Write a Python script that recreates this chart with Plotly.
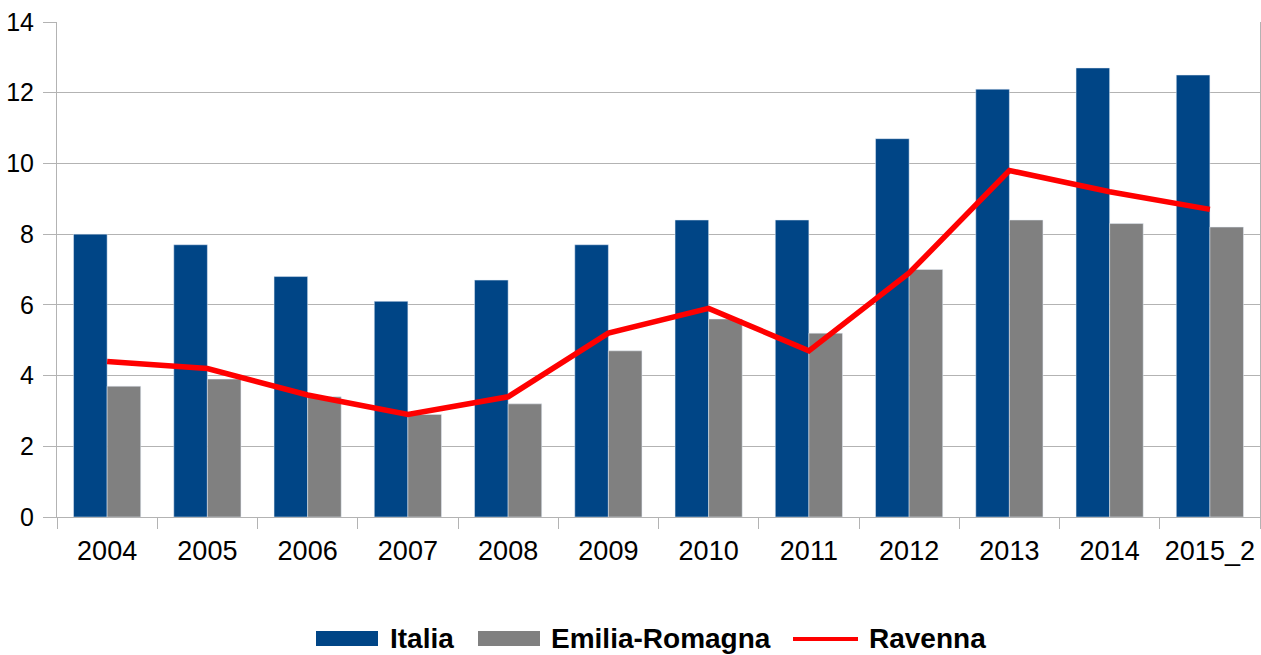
import plotly.graph_objects as go

years = ["2004", "2005", "2006", "2007", "2008", "2009", "2010", "2011", "2012", "2013", "2014", "2015_2"]
italia = [8.0, 7.7, 6.8, 6.1, 6.7, 7.7, 8.4, 8.4, 10.7, 12.1, 12.7, 12.5]
emilia = [3.7, 3.9, 3.4, 2.9, 3.2, 4.7, 5.6, 5.2, 7.0, 8.4, 8.3, 8.2]
ravenna = [4.4, 4.2, 3.45, 2.9, 3.4, 5.2, 5.9, 4.7, 6.9, 9.8, 9.2, 8.7]
y_ticks = [0, 2, 4, 6, 8, 10, 12, 14]

C_IT = "#004586"
C_ER = "#808080"
C_RA = "#ff0000"
GRID = "#b3b3b3"
FONT = "Liberation Sans, Arial, sans-serif"

fig = go.Figure()
fig.add_trace(go.Bar(x=years, y=italia, name="Italia", marker_color=C_IT, showlegend=False))
fig.add_trace(go.Bar(x=years, y=emilia, name="Emilia-Romagna", marker_color=C_ER, showlegend=False))
fig.add_trace(go.Scatter(x=years, y=ravenna, name="Ravenna", mode="lines",
                         line=dict(color=C_RA, width=5.5), showlegend=False))

W, H = 1261, 655
L, R, T, B = 57, 1, 22, 138
pw, ph = W - L - R, H - T - B

def px(x):
    return (x - L) / pw

def py(y):
    return (H - B - y) / ph

# custom legend
LEG_Y = 638
legend_items = [("Italia", C_IT, "rect", 316, 378, 388),
                ("Emilia-Romagna", C_ER, "rect", 478, 540, 549),
                ("Ravenna", C_RA, "line", 793, 858, 867)]
shapes = []
annotations = []
for name, col, kind, x0, x1, tx in legend_items:
    if kind == "rect":
        shapes.append(dict(type="rect", xref="paper", yref="paper",
                           x0=px(x0), x1=px(x1), y0=py(LEG_Y + 8), y1=py(LEG_Y - 7),
                           fillcolor=col, line=dict(width=0)))
    else:
        shapes.append(dict(type="line", xref="paper", yref="paper",
                           x0=px(x0), x1=px(x1), y0=py(LEG_Y + 1), y1=py(LEG_Y + 1),
                           line=dict(color=col, width=4)))
    annotations.append(dict(text="<b>%s</b>" % name, xref="paper", yref="paper",
                            x=px(tx), y=py(LEG_Y), xanchor="left", yanchor="middle",
                            showarrow=False, font=dict(family=FONT, size=28, color="#000000")))

fig.update_layout(
    width=W, height=H,
    margin=dict(l=L, r=R, t=T, b=B, pad=0, autoexpand=False),
    paper_bgcolor="white", plot_bgcolor="white",
    barmode="group", bargap=0.33, bargroupgap=0,
    shapes=shapes, annotations=annotations,
    showlegend=False,
    font=dict(family=FONT, color="#000000"),
)
fig.update_xaxes(type="category", showgrid=False, showline=True, linecolor=GRID, linewidth=1,
                 ticks="outside", tickson="boundaries", ticklen=11, tickcolor=GRID,
                 tickangle=0, automargin=False,
                 tickfont=dict(family=FONT, size=27, color="#000000"), ticklabelstandoff=10)
fig.update_yaxes(range=[0, 14], tickvals=y_ticks, showgrid=True, gridcolor=GRID, gridwidth=1,
                 showline=True, mirror=True, linecolor=GRID, linewidth=1, zeroline=False,
                 ticks="outside", ticklen=13, tickcolor=GRID, automargin=False,
                 tickfont=dict(family=FONT, size=25, color="#000000"), ticklabelstandoff=4)

fig.write_html("out.html", config={"displayModeBar": False},
               post_script="document.body.style.margin='0';document.body.style.overflow='hidden';")
